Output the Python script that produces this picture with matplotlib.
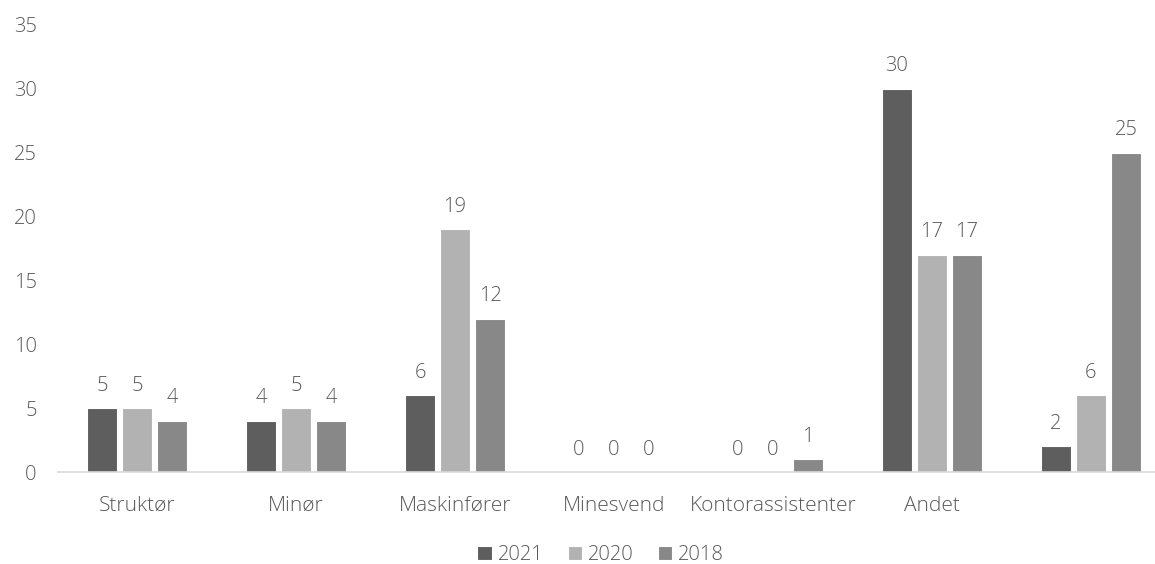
import numpy as np
import matplotlib.pyplot as plt

# categories and values
categories = ["Struktør", "Minør", "Maskinfører", "Minesvend", "Kontorassistenter", "Andet", ""]
years = ["2021", "2020", "2018"]
v2021 = [5, 4, 6, 0, 0, 30, 2]
v2020 = [5, 5, 19, 0, 0, 17, 6]
v2018 = [4, 4, 12, 0, 1, 17, 25]
colors = ["#5e5e5e", "#b2b2b2", "#888888"]
txt = "#595959"

plt.rcParams['font.family'] = ['Open Sans', 'DejaVu Sans']

fig = plt.figure(figsize=(11.55, 5.64), dpi=100)
ax = fig.add_axes([0.0498, 0.1631, 0.9636, 0.7926])

x = np.arange(len(categories))
pitch = 0.22
width = 0.19
series = [v2021, v2020, v2018]
for i, (vals, yr, c) in enumerate(zip(series, years, colors)):
    pos = x + (i - 1) * pitch
    ax.bar(pos, vals, width=width, color=c, label=yr, edgecolor="white", linewidth=0.8)
    for p, v in zip(pos, vals):
        ax.annotate(str(v), (p, v), xytext=(0, 9), textcoords="offset points",
                    ha="center", va="bottom", fontsize=14.5, color=txt, fontweight="light")

ax.set_xlim(-0.5, len(categories) - 0.5)
ax.set_ylim(0, 35)
ax.set_yticks(range(0, 36, 5))
ax.set_xticks(x)
ax.set_xticklabels(categories, fontsize=15)
ax.tick_params(axis="both", length=0, colors=txt)
ax.tick_params(axis="y", pad=15, labelsize=14.5)
ax.tick_params(axis="x", pad=17)
for lab in ax.get_xticklabels() + ax.get_yticklabels():
    lab.set_fontweight("light")
for s in ["top", "right", "left"]:
    ax.spines[s].set_visible(False)
ax.spines["bottom"].set_color("#d9d9d9")
ax.spines["bottom"].set_linewidth(1.2)

leg = fig.legend(loc="center", bbox_to_anchor=(0.52, 0.016), ncol=3, frameon=False,
                 fontsize=14.5, handlelength=0.7, handleheight=0.7, handletextpad=0.3,
                 columnspacing=1.2, borderpad=0.1)
for t in leg.get_texts():
    t.set_color(txt)
    t.set_fontweight("light")

plt.savefig("out.png", dpi=100)
